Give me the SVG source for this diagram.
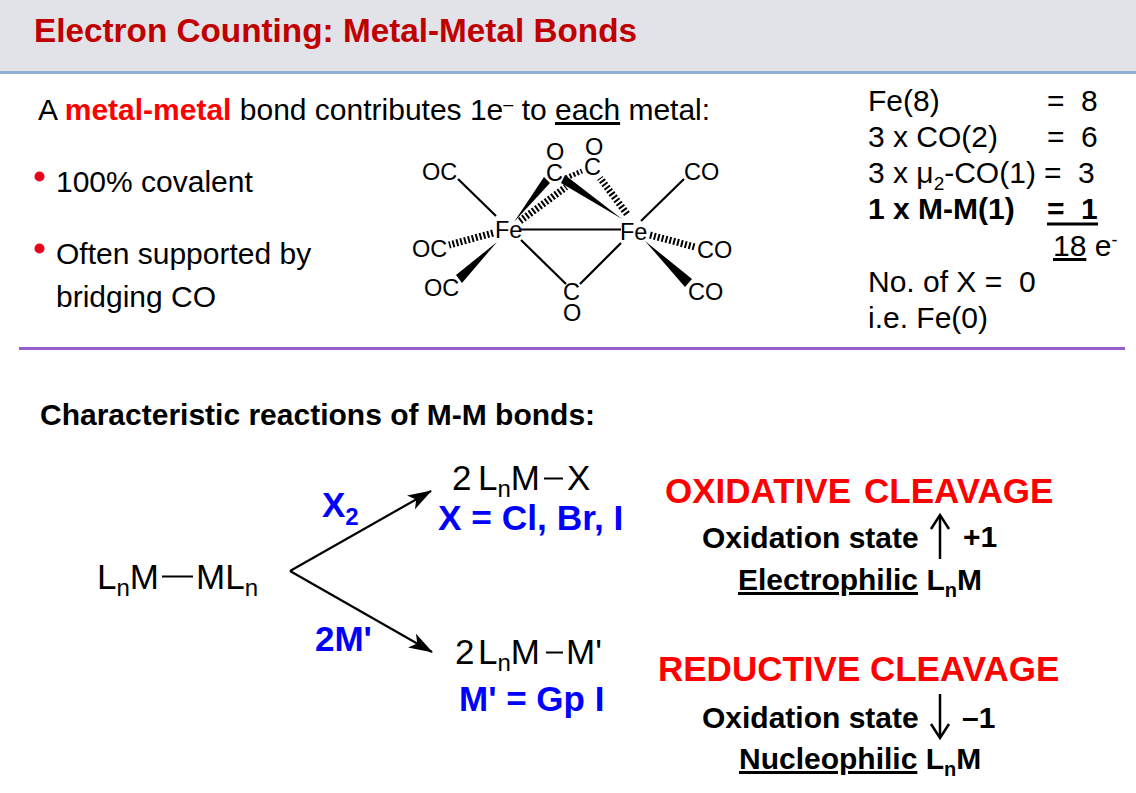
<svg xmlns="http://www.w3.org/2000/svg" width="1136" height="793" viewBox="0 0 1136 793">
<defs>
<style>
text{font-family:"Liberation Sans",Arial,sans-serif;fill:#000;white-space:pre}
.b{font-weight:bold}
.m{font-size:30px}
.blue{fill:#0000ff;font-weight:bold;font-size:35px}
.red{fill:#ff0000;font-weight:bold;font-size:35px}
.os{font-weight:bold;font-size:30px}
.ch{font-size:23.500px;fill:#1a1a1a}
.f{font-size:35px}
.c{font-size:30px}
.l{stroke:#000;stroke-width:2.200;fill:none}
.hash{stroke:#000;stroke-width:7;stroke-dasharray:2 2;fill:none}
.w{fill:#000;stroke:none}
</style>
<marker id="ah" viewBox="0 0 24 16" refX="23" refY="8" markerWidth="24" markerHeight="16" markerUnits="userSpaceOnUse" orient="auto"><path d="M0 0L24 8L0 16L6 8Z" fill="#000"/></marker>
</defs>
<rect id="header" width="1136" height="72" fill="#e1e3e8"/>
<line x1="0" y1="72.500" x2="1136" y2="72.500" stroke="#8fafd3" stroke-width="3"/>
<text x="34" y="42" font-size="33.300" class="b" style="fill:#c00000">Electron Counting: Metal-Metal Bonds</text>
<text x="38" y="120" class="m">A <tspan class="b" style="fill:#ff0000">metal-metal</tspan> bond contributes 1e<tspan font-size="18" dy="-10">–</tspan><tspan dy="10"> to </tspan><tspan text-decoration="underline">each</tspan> metal:</text>
<circle cx="39.500" cy="176.500" r="5" fill="#e8001c"/>
<text x="56" y="192" class="m">100% covalent</text>
<circle cx="39.500" cy="248.500" r="5" fill="#e8001c"/>
<text x="56" y="264" class="m">Often supported by</text>
<text x="56" y="307" class="m">bridging CO</text>

<g id="fe2co9">
<g class="ch">
<text x="422" y="180">OC</text><text x="412" y="257">OC</text><text x="424" y="296">OC</text>
<text x="684" y="180">CO</text><text x="697" y="258">CO</text><text x="688" y="300">CO</text>
<text x="495" y="238">Fe</text><text x="620" y="240">Fe</text>
<text x="546" y="160">O</text><text x="546" y="181">C</text><text x="585" y="155">O</text><text x="584" y="175">C</text>
<text x="563" y="300">C</text><text x="563" y="321">O</text>
</g>
<g class="l">
<line x1="458" y1="179" x2="496" y2="216"/>
<line x1="521" y1="229.500" x2="621" y2="229.500"/>
<line x1="521" y1="240" x2="566" y2="284"/>
<line x1="621" y1="243" x2="580" y2="284"/>
<line x1="684" y1="179" x2="641" y2="221"/>
</g>
<path class="w" d="M514 222L544 177L550 183Z"/>
<path class="w" d="M497 242L456 275L462 283Z"/>
<path class="w" d="M565 175L622 219L561 183Z"/>
<path class="w" d="M645 241L692 279L685 287Z"/>
<path class="hash" d="M493 233L449 245"/>
<path class="hash" d="M650 235L695 247"/>
<path class="hash" d="M520 221L566 187"/>
<path class="hash" d="M627 214L600 178"/>
<path class="hash" style="stroke-width:5" d="M566 178L582 171"/>
</g>

<g id="count">
<text x="868" y="111" class="c">Fe(8)</text><text x="1047" y="111" class="c">=</text><text x="1081" y="111" class="c">8</text>
<text x="868" y="147" class="c">3 x CO(2)</text><text x="1047" y="147" class="c">=</text><text x="1081" y="147" class="c">6</text>
<text x="868" y="183" class="c">3 x μ<tspan font-size="19" dy="7">2</tspan><tspan dy="-7">-CO(1)</tspan></text><text x="1044" y="183" class="c">=</text><text x="1078" y="183" class="c">3</text>
<text x="868" y="219" class="c b">1 x M-M(1)</text><text x="1047" y="219" class="c b">=</text><text x="1081" y="219" class="c b">1</text>
<line x1="1047" y1="224" x2="1098" y2="224" stroke="#000" stroke-width="3"/>
<text x="1053" y="256" class="c"><tspan text-decoration="underline">18</tspan> e<tspan font-size="18" dy="-10">-</tspan></text>
<text x="868" y="292" class="c">No. of X =  0</text>
<text x="868" y="328" class="c">i.e. Fe(0)</text>
</g>
<line x1="19" y1="348.500" x2="1125" y2="348.500" stroke="#955fc9" stroke-width="3"/>
<text x="40" y="425" font-size="30" class="b">Characteristic reactions of M-M bonds:</text>

<g id="reactant"><text x="97" y="589" class="f">L<tspan font-size="24" dy="7">n</tspan><tspan dy="-7">M</tspan></text><line x1="162" y1="576.500" x2="193" y2="576.500" stroke="#000" stroke-width="2"/><text x="196" y="589" class="f">ML<tspan font-size="24" dy="7">n</tspan></text></g>
<g id="connectors">
<line x1="290" y1="571" x2="431" y2="491" class="l" marker-end="url(#ah)"/>
<line x1="290" y1="571" x2="432" y2="652" class="l" marker-end="url(#ah)"/>
</g>
<g id="p1"><text x="452" y="490" class="f">2</text><text x="478" y="490" class="f">L<tspan font-size="24" dy="7">n</tspan><tspan dy="-7">M</tspan></text><line x1="544" y1="478.500" x2="563" y2="478.500" stroke="#000" stroke-width="2"/><text x="567" y="490" class="f">X</text></g>
<text x="322" y="517" class="blue">X<tspan font-size="24" dy="8">2</tspan></text>
<text x="438" y="530" class="blue" style="font-size:35.300px">X = Cl, Br, I</text>
<text x="315" y="651" class="blue">2M'</text>
<g id="p2"><text x="455" y="664" class="f">2</text><text x="478" y="664" class="f">L<tspan font-size="24" dy="7">n</tspan><tspan dy="-7">M</tspan></text><line x1="546" y1="652.500" x2="563" y2="652.500" stroke="#000" stroke-width="2"/><text x="566" y="664" class="f">M'</text></g>
<text x="459" y="711" class="blue">M' = Gp I</text>

<text x="665" y="503" class="red">OXIDATIVE</text><text x="864" y="503" class="red">CLEAVAGE</text>
<text x="702" y="548" class="os">Oxidation state</text>
<line x1="940" y1="559" x2="940" y2="516" stroke="#000" stroke-width="2.500"/><path d="M931 529L940 515L949 529" fill="none" stroke="#000" stroke-width="2.500"/>
<text x="963" y="547" class="os">+1</text>
<text x="738" y="590" class="os"><tspan text-decoration="underline">Electrophilic</tspan> L<tspan font-size="20" dy="7">n</tspan><tspan dy="-7">M</tspan></text>
<text x="658" y="681" class="red">REDUCTIVE CLEAVAGE</text>
<text x="702" y="728" class="os">Oxidation state</text>
<line x1="940" y1="694" x2="940" y2="737" stroke="#000" stroke-width="2.500"/><path d="M931 724L940 738L949 724" fill="none" stroke="#000" stroke-width="2.500"/>
<text x="962" y="728" class="os">–1</text>
<text x="739" y="769" class="os"><tspan text-decoration="underline">Nucleophilic</tspan> L<tspan font-size="20" dy="7">n</tspan><tspan dy="-7">M</tspan></text>
</svg>
